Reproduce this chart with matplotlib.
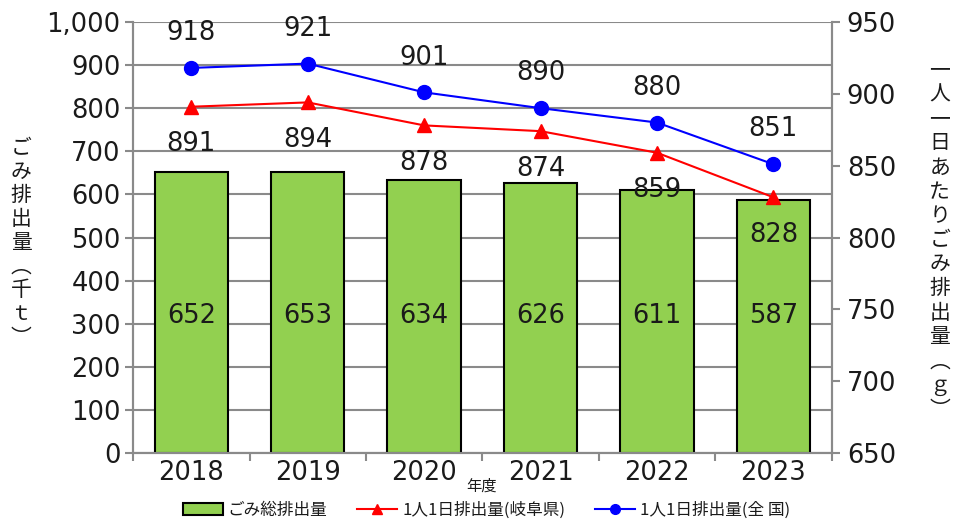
import matplotlib.pyplot as plt
from matplotlib.patches import Patch
from matplotlib.lines import Line2D

plt.rcParams['font.family'] = ['DejaVu Sans', 'Noto Sans CJK JP']
plt.rcParams['text.color'] = "#1a1a1a"
plt.rcParams['xtick.labelcolor'] = "#1a1a1a"
plt.rcParams['ytick.labelcolor'] = "#1a1a1a"

# データ
nendo = ["2018", "2019", "2020", "2021", "2022", "2023"]
sou_haishutsu = [652, 653, 634, 626, 611, 587]      # ごみ総排出量(千t)
gifu = [891, 894, 878, 874, 859, 828]               # 1人1日排出量(岐阜県)
zenkoku = [918, 921, 901, 890, 880, 851]            # 1人1日排出量(全国)

GRAY = "#8a8a8a"
GREEN = "#92D050"
JP = ['Noto Sans CJK JP', 'DejaVu Sans']
NUM = 18.5

fig = plt.figure(figsize=(9.58, 5.22), dpi=100)
ax = fig.add_axes([0.139, 0.132, 0.729, 0.826])
ax2 = ax.twinx()

x = list(range(len(nendo)))

# 棒グラフ
ax.bar(x, sou_haishutsu, width=0.63, color=GREEN, edgecolor="black",
       linewidth=1.5, zorder=3)
for xi, v in zip(x, sou_haishutsu):
    ax.text(xi, 318, str(v), ha="center", va="center", fontsize=NUM, zorder=4)

ax.set_ylim(0, 1000)
ax.set_yticks(range(0, 1001, 100))
ax.set_yticklabels([f"{v:,}" for v in range(0, 1001, 100)])
ax.set_xlim(-0.5, len(nendo) - 0.5)
ax.grid(axis="y", color=GRAY, linewidth=1.5, zorder=0)
ax.set_axisbelow(True)

# x軸: 区切り目盛りとラベル
ax.set_xticks([i - 0.5 for i in range(len(nendo) + 1)])
ax.set_xticklabels([])
ax.set_xticks(x, minor=True)
ax.set_xticklabels(nendo, minor=True)
ax.tick_params(axis="x", which="major", length=6, width=1.5, color=GRAY)
ax.tick_params(axis="x", which="minor", length=0, labelsize=NUM, pad=5)
ax.tick_params(axis="y", length=6, width=1.5, color=GRAY, labelsize=NUM, pad=3)

# 折れ線
ax2.plot(x, gifu, color="red", marker="^", markersize=10, linewidth=1.5, zorder=5)
ax2.plot(x, zenkoku, color="blue", marker="o", markersize=10, linewidth=1.5, zorder=5)
for xi, v in zip(x, gifu):
    ax2.annotate(str(v), (xi, v), xytext=(0, -27), textcoords="offset points",
                 ha="center", va="center", fontsize=NUM)
for xi, v in zip(x, zenkoku):
    ax2.annotate(str(v), (xi, v), xytext=(0, 25), textcoords="offset points",
                 ha="center", va="center", fontsize=NUM)
ax2.set_ylim(650, 950)
ax2.set_yticks(range(650, 951, 50))
ax2.tick_params(axis="y", length=6, width=1.5, color=GRAY, labelsize=NUM, pad=5)

for a in (ax, ax2):
    for side in ("left", "right", "bottom"):
        a.spines[side].set_color(GRAY)
        a.spines[side].set_linewidth(1.5)
    a.spines["top"].set_visible(False)

# 縦書きの軸ラベル
left_label = "ごみ排出量︵千ｔ︶"
right_label = "一人一日あたりごみ排出量︵ｇ︶"
fig.text(0.022, 0.535, "\n".join(left_label), ha="center", va="center",
         fontsize=15, linespacing=1.1, family=JP)
fig.text(0.981, 0.54, "\n".join(right_label), ha="center", va="center",
         fontsize=15, linespacing=1.13, family=JP)

fig.text(0.503, 0.068, "年度", ha="center", va="center", fontsize=11, family=JP)

# 凡例
handles = [
    Patch(facecolor=GREEN, edgecolor="black", linewidth=1.5),
    Line2D([], [], color="red", marker="^", markersize=7, linewidth=1.5),
    Line2D([], [], color="blue", marker="o", markersize=7, linewidth=1.5),
]
labels = ["ごみ総排出量", "1人1日排出量(岐阜県)", "1人1日排出量(全 国)"]
fig.legend(handles, labels, loc="center", bbox_to_anchor=(0.508, 0.022), ncol=3,
           frameon=False, prop={"family": JP, "size": 12}, handlelength=2.4,
           handletextpad=0.3, columnspacing=1.8, borderaxespad=0)

plt.savefig("out.png", dpi=100)
